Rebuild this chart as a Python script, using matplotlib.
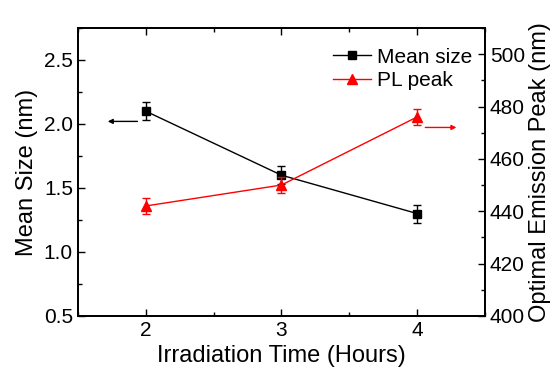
import matplotlib.pyplot as plt
from matplotlib.lines import Line2D
from matplotlib.ticker import MultipleLocator

plt.rcParams['font.family'] = ['Liberation Sans', 'DejaVu Sans']

hours = [2, 3, 4]
mean_size = [2.10, 1.60, 1.30]
size_err = [0.07, 0.07, 0.07]
pl_peak = [442, 450, 476]
peak_err = [3, 3, 3]

fig, ax = plt.subplots(figsize=(5.6, 3.73), dpi=100)
fig.subplots_adjust(left=0.139, right=0.866, top=0.925, bottom=0.153)
ax2 = ax.twinx()

ax.errorbar(hours, mean_size, yerr=size_err, color='black', marker='s', ms=6,
            lw=1, capsize=3, elinewidth=1)
ax2.errorbar(hours, pl_peak, yerr=peak_err, color='red', marker='^', ms=7,
             lw=1, capsize=3, elinewidth=1)

# arrows pointing to each axis
ax.annotate('', xy=(1.70, 2.02), xytext=(1.96, 2.02),
            arrowprops=dict(arrowstyle='-|>', color='black', lw=1, mutation_scale=7))
ax2.annotate('', xy=(4.31, 472), xytext=(4.04, 472),
             arrowprops=dict(arrowstyle='-|>', color='red', lw=1, mutation_scale=7))

ax.set_xlim(1.5, 4.5)
ax.set_ylim(0.5, 2.75)
ax2.set_ylim(400, 510)
ax.set_xticks([2, 3, 4])
ax.xaxis.set_minor_locator(MultipleLocator(0.5))
ax.yaxis.set_major_locator(MultipleLocator(0.5))
ax.yaxis.set_minor_locator(MultipleLocator(0.25))
ax2.yaxis.set_major_locator(MultipleLocator(20))
ax2.yaxis.set_minor_locator(MultipleLocator(10))

ax.tick_params(which='both', direction='in', top=True, labelsize=15, width=1)
ax.tick_params(which='major', length=5)
ax.tick_params(which='minor', length=3)
ax2.tick_params(which='both', direction='in', labelsize=15, width=1)
ax2.tick_params(which='major', length=5)
ax2.tick_params(which='minor', length=3)
for a in (ax, ax2):
    for s in a.spines.values():
        s.set_linewidth(1.3)

ax.set_xlabel('Irradiation Time (Hours)', fontsize=17, labelpad=4)
ax.set_ylabel('Mean Size (nm)', fontsize=17, labelpad=4)
ax2.set_ylabel('Optimal Emission Peak (nm)', fontsize=17, labelpad=3)

handles = [Line2D([], [], color='black', marker='s', ms=6, lw=1),
           Line2D([], [], color='red', marker='^', ms=7, lw=1)]
ax.legend(handles, ['Mean size', 'PL peak'], loc='upper right', frameon=False,
          fontsize=15, handlelength=1.8, borderaxespad=0.2, labelspacing=0.22,
          handletextpad=0.3, bbox_to_anchor=(1.0, 0.975))

fig.savefig('out.png', dpi=100)
